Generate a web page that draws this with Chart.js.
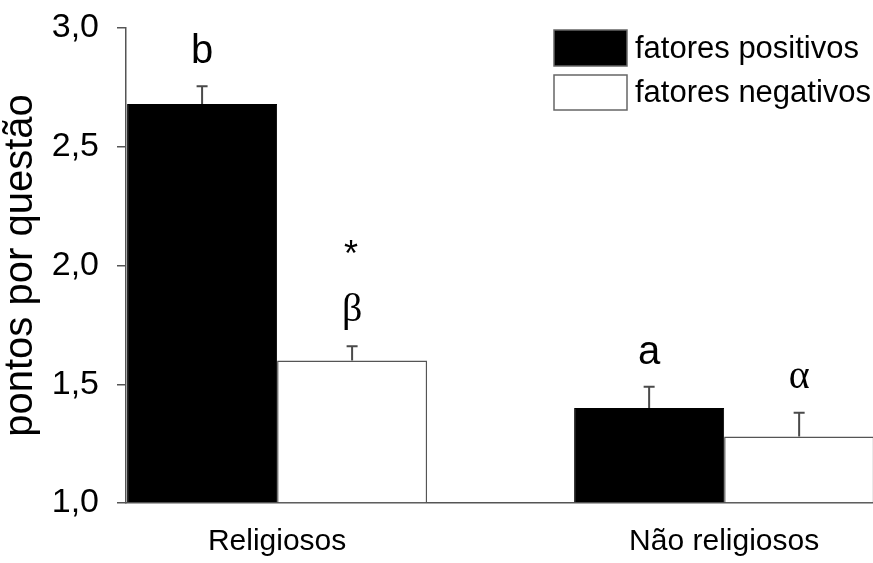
<!DOCTYPE html>
<html><head><meta charset="utf-8">
<style>html,body{margin:0;padding:0;background:#fff}#wrap{width:873px;height:563px}</style>
<script src="https://cdn.jsdelivr.net/npm/chart.js@4.4.0/dist/chart.umd.min.js"></script>
</head><body><div id="wrap"><canvas id="c" width="873" height="563"></canvas></div>
<script>
const categories = ['Religiosos', 'Não religiosos'];
const seriesNames = ['fatores positivos', 'fatores negativos'];
const positivos = [2.68, 1.40];
const negativos = [1.60, 1.28];
const positivosErr = [0.075, 0.09];
const negativosErr = [0.06, 0.10];
const positivosSig = ['b', 'a'];
const negativosSig = ['β', 'α'];
const negativosStar = ['*', ''];
const yTicks = [1.0, 1.5, 2.0, 2.5, 3.0];

const SANS = "'Liberation Sans', Arial, sans-serif";
const SERIF = "'Liberation Serif', 'Times New Roman', serif";
const AXIS = '#555';
Chart.defaults.font.family = SANS;
Chart.defaults.color = '#000';

const errs = [positivosErr, negativosErr];
const sigs = [positivosSig, negativosSig];

const extras = {
  id: 'extras',
  afterDatasetsDraw(chart) {
    const ctx = chart.ctx, y = chart.scales.y;
    ctx.save();
    chart.data.datasets.forEach((ds, di) => {
      const meta = chart.getDatasetMeta(di);
      meta.data.forEach((bar, i) => {
        const v = ds.data[i].y, e = errs[di][i];
        const top = y.getPixelForValue(v + e);
        ctx.strokeStyle = '#4a4a4a';
        ctx.lineWidth = 2;
        ctx.beginPath();
        ctx.moveTo(bar.x, bar.y); ctx.lineTo(bar.x, top);
        ctx.moveTo(bar.x - 5.5, top); ctx.lineTo(bar.x + 5.5, top);
        ctx.stroke();
        const s = sigs[di][i];
        const greek = /[α-ω]/.test(s);
        ctx.fillStyle = '#000';
        ctx.textAlign = 'center';
        ctx.textBaseline = 'alphabetic';
        ctx.font = greek ? '40px ' + SERIF : '40px ' + SANS;
        ctx.fillText(s, bar.x, top - (greek ? 25 : 23));
        if (di === 1 && negativosStar[i]) {
          ctx.font = '36px ' + SANS;
          ctx.textBaseline = 'middle';
          ctx.fillText(negativosStar[i], bar.x - 1, top - 90);
        }
      });
    });
    ctx.restore();
  },
  afterDraw(chart) {
    const ctx = chart.ctx;
    ctx.save();
    const rows = [[30, 36], [75, 35]];
    chart.data.datasets.forEach((ds, di) => {
      const [ry, rh] = rows[di];
      ctx.fillStyle = ds.backgroundColor;
      ctx.fillRect(554, ry, 73, rh);
      ctx.strokeStyle = '#666';
      ctx.lineWidth = 1.5;
      ctx.strokeRect(554, ry, 73, rh);
      ctx.fillStyle = '#000';
      ctx.font = '31px ' + SANS;
      ctx.textAlign = 'left';
      ctx.textBaseline = 'middle';
      ctx.fillText(ds.label, 635, ry + rh / 2 + 1);
    });
    ctx.restore();
  }
};

new Chart(document.getElementById('c'), {
  type: 'bar',
  data: {
    datasets: [
      { label: seriesNames[0], data: positivos.map((v, i) => ({ x: i, y: v })),
        backgroundColor: '#000', borderColor: '#000', borderWidth: 1, base: 1 },
      { label: seriesNames[1], data: negativos.map((v, i) => ({ x: i, y: v })),
        backgroundColor: '#fff', borderColor: AXIS, borderWidth: 1.5, base: 1 }
    ]
  },
  options: {
    responsive: false,
    devicePixelRatio: 1,
    animation: false,
    categoryPercentage: 300 / 447,
    barPercentage: 1,
    layout: { padding: { top: 28, right: 0, bottom: 0, left: 0 } },
    plugins: { legend: { display: false }, tooltip: { enabled: false } },
    scales: {
      x: {
        type: 'linear',
        offset: false,
        bounds: 'data',
        min: -0.338, max: 1.333,
        afterBuildTicks: s => { s.ticks = categories.map((_, i) => ({ value: i })); },
        ticks: { callback: (v, i) => categories[i], font: { size: 30 }, color: '#000', padding: 21, maxRotation: 0, autoSkip: false },
        grid: { display: false, drawTicks: false, offset: false },
        border: { display: true, color: AXIS, width: 1.5 },
        afterFit: s => { s.height = 60; s.paddingLeft = 0; s.paddingRight = 0; }
      },
      y: {
        min: 1, max: 3,
        afterBuildTicks: s => { s.ticks = yTicks.map(v => ({ value: v })); },
        ticks: { callback: v => v.toFixed(1).replace('.', ','), font: { size: 34 }, color: '#000', padding: 18 },
        grid: { drawOnChartArea: false, tickLength: 9, color: AXIS, lineWidth: 1.5 },
        border: { display: true, color: AXIS, width: 1.5 },
        title: { display: true, text: 'pontos por questão', font: { size: 40, lineHeight: 1.05 }, color: '#000', padding: 0 },
        afterFit: s => { s.width = 126; s.paddingTop = 0; s.paddingBottom = 0; }
      }
    }
  },
  plugins: [extras]
});
</script></body></html>
